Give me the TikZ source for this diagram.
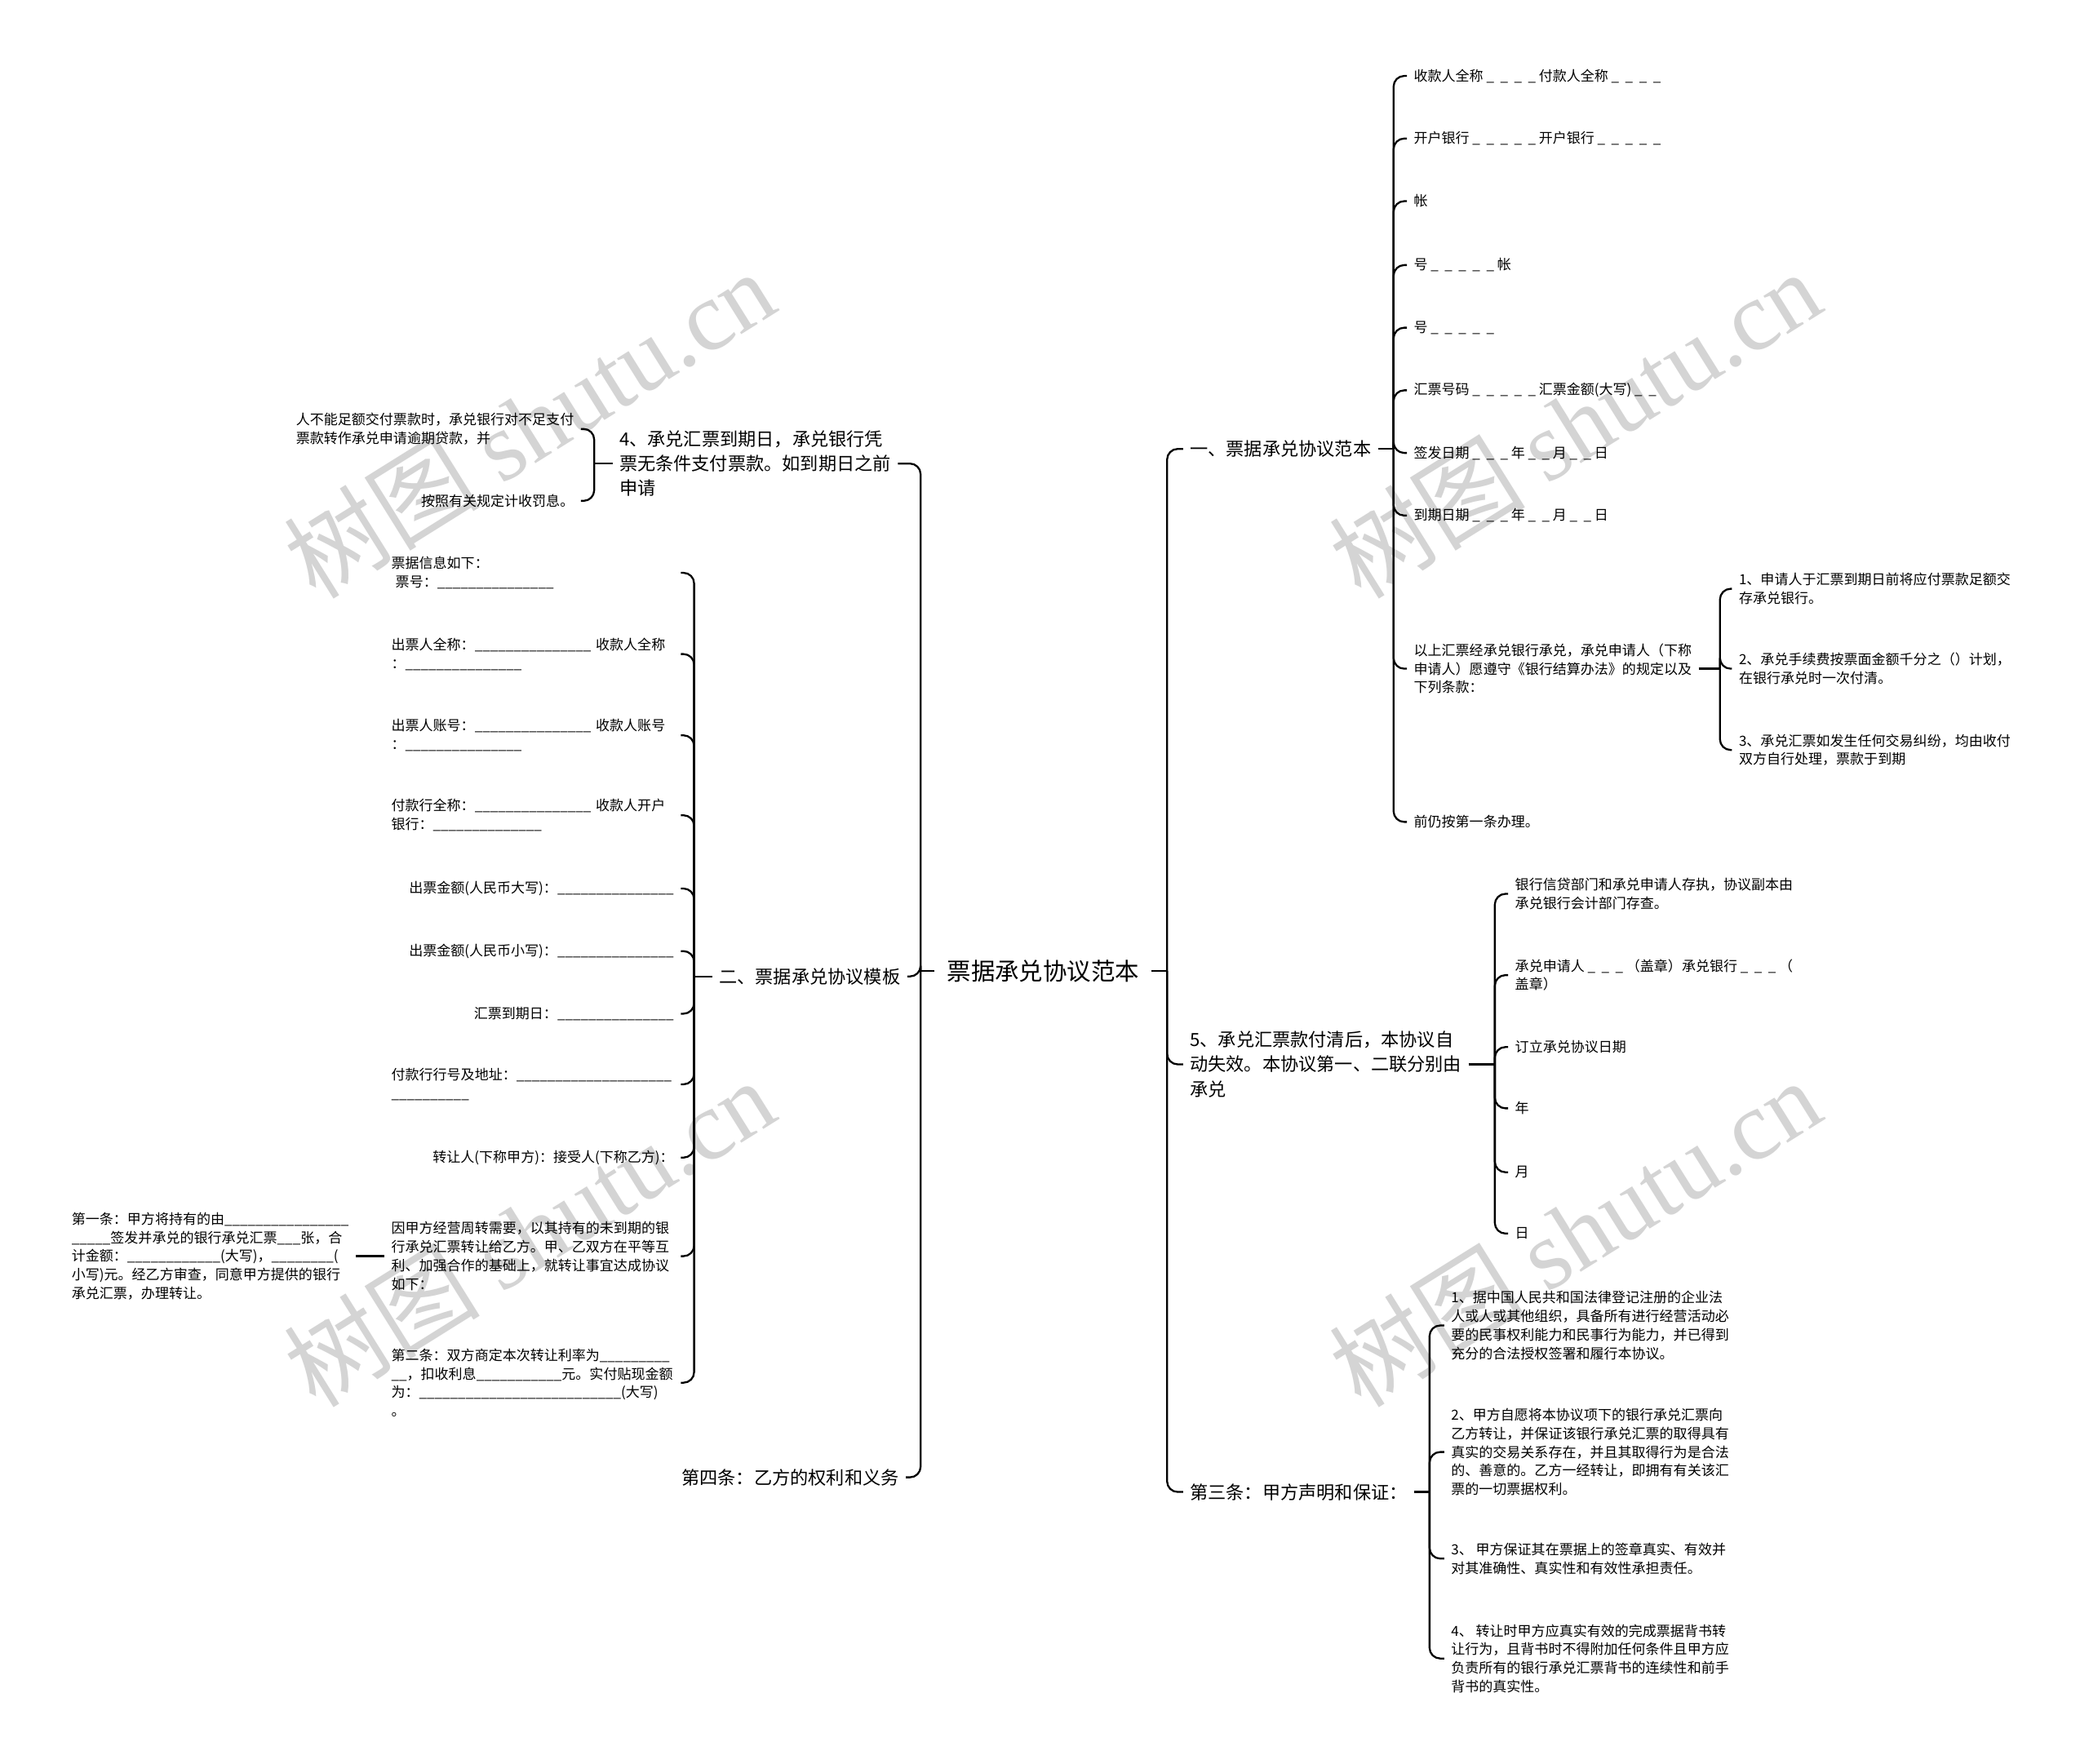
\documentclass[tikz,border=0pt]{standalone}
\usepackage{fontspec}
\setmainfont{Noto Sans CJK SC}
\newfontfamily\wmserif{Liberation Serif}
\usepackage{tikz}
\newcommand\uls[1]{\foreach\k in {1,...,#1}{\_}}
\newcommand\gaps[1]{\foreach\k in {1,...,#1}{\makebox[1em]{\_}}}

\begin{document}
\begin{tikzpicture}[
  x=0.3mm, y=-0.3mm,
  root/.style={font=\fontsize{15.4pt}{19pt}\selectfont, inner sep=2.7mm},
  lvone/.style={font=\fontsize{11.6pt}{15.8pt}\selectfont, align=left, inner sep=1.5mm},
  leaf/.style={font=\fontsize{8.9pt}{11.9pt}\selectfont, align=left, inner sep=1.5mm},
  wide/.style={leaf, text width=63.6mm},
  link/.style={line width=1.2pt, rounded corners=2.4mm},
  wmark/.style={text=black!17, rotate=32, font=\fontsize{63pt}{66pt}\selectfont, inner sep=0pt},
]
  \path[use as bounding box, fill=white] (0,0) rectangle (1568,1324);

  \node[wmark] (wm1) at (397,318) {树图 {\wmserif shutu.cn}};
  \node[wmark] (wm2) at (1182,318) {树图 {\wmserif shutu.cn}};
  \node[wmark] (wm3) at (397,925) {树图 {\wmserif shutu.cn}};
  \node[wmark] (wm4) at (1182,925) {树图 {\wmserif shutu.cn}};

  \node[root] (root) at (783,729) {票据承兑协议范本};
  \coordinate (jR) at (876,729);
  \coordinate (jL) at (691,729);
  \draw[link] (root.east) -- (jR);
  \draw[link] (root.west) -- (jL);

  % right side
  \node[lvone, anchor=west] (sample) at (888,337) {一、票据承兑协议范本};
  \node[lvone, anchor=west] (clause5) at (888,799) {5、承兑汇票款付清后，本协议自\\动失效。本协议第一、二联分别由\\承兑};
  \node[lvone, anchor=west] (clause3) at (888,1120) {第三条：甲方声明和保证：};
  \foreach \n in {sample,clause5,clause3} \draw[link] (jR) |- (\n.west);

  \node[leaf, anchor=west] (s1) at (1056,57) {收款人全称\gaps{4}付款人全称\gaps{4}};
  \node[leaf, anchor=west] (s2) at (1056,104) {开户银行\gaps{5}开户银行\gaps{5}};
  \node[leaf, anchor=west] (s3) at (1056,151) {帐};
  \node[leaf, anchor=west] (s4) at (1056,199) {号\gaps{5}帐};
  \node[leaf, anchor=west] (s5) at (1056,246) {号\gaps{5}};
  \node[leaf, anchor=west] (s6) at (1056,293) {汇票号码\gaps{5}汇票金额(大写)\gaps{2}};
  \node[leaf, anchor=west] (s7) at (1056,340) {签发日期\gaps{3}年\gaps{2}月\gaps{2}日};
  \node[leaf, anchor=west] (s8) at (1056,387) {到期日期\gaps{3}年\gaps{2}月\gaps{2}日};
  \node[leaf, anchor=west] (s9) at (1056,502) {以上汇票经承兑银行承兑，承兑申请人（下称\\申请人）愿遵守《银行结算办法》的规定以及\\下列条款：};
  \node[leaf, anchor=west] (s10) at (1056,617) {前仍按第一条办理。};
  \coordinate (jS) at (1046,337);
  \draw[link] (sample.east) -- (jS);
  \foreach \i in {1,...,10} \draw[link] (jS) |- (s\i.west);

  \node[leaf, anchor=west] (t1) at (1300,442) {1、申请人于汇票到期日前将应付票款足额交\\存承兑银行。};
  \node[leaf, anchor=west] (t2) at (1300,502) {2、承兑手续费按票面金额千分之（）计划，\\在银行承兑时一次付清。};
  \node[leaf, anchor=west] (t3) at (1300,563) {3、承兑汇票如发生任何交易纠纷，均由收付\\双方自行处理，票款于到期};
  \coordinate (jA) at (1291,502);
  \draw[link] (s9.east) -- (jA);
  \foreach \i in {1,2,3} \draw[link] (jA) |- (t\i.west);

  \node[leaf, anchor=west] (u1) at (1132,671) {银行信贷部门和承兑申请人存执，协议副本由\\承兑银行会计部门存查。};
  \node[leaf, anchor=west] (u2) at (1132,732) {承兑申请人\gaps{3}（盖章）承兑银行\gaps{3}（\\盖章）};
  \node[leaf, anchor=west] (u3) at (1132,786) {订立承兑协议日期};
  \node[leaf, anchor=west] (u4) at (1132,832) {年};
  \node[leaf, anchor=west] (u5) at (1132,880) {月};
  \node[leaf, anchor=west] (u6) at (1132,926) {日};
  \coordinate (jC) at (1122,799);
  \draw[link] (clause5.east) -- (jC);
  \foreach \i in {1,...,6} \draw[link] (jC) |- (u\i.west);

  \node[leaf, anchor=west] (v1) at (1084,995) {1、据中国人民共和国法律登记注册的企业法\\人或人或其他组织，具备所有进行经营活动必\\要的民事权利能力和民事行为能力，并已得到\\充分的合法授权签署和履行本协议。};
  \node[leaf, anchor=west] (v2) at (1084,1090) {2、甲方自愿将本协议项下的银行承兑汇票向\\乙方转让，并保证该银行承兑汇票的取得具有\\真实的交易关系存在，并且其取得行为是合法\\的、善意的。乙方一经转让，即拥有有关该汇\\票的一切票据权利。};
  \node[leaf, anchor=west] (v3) at (1084,1170) {3、 甲方保证其在票据上的签章真实、有效并\\对其准确性、真实性和有效性承担责任。};
  \node[leaf, anchor=west] (v4) at (1084,1245) {4、 转让时甲方应真实有效的完成票据背书转\\让行为，且背书时不得附加任何条件且甲方应\\负责所有的银行承兑汇票背书的连续性和前手\\背书的真实性。};
  \coordinate (jD) at (1073,1120);
  \draw[link] (clause3.east) -- (jD);
  \foreach \i in {1,...,4} \draw[link] (jD) |- (v\i.west);

  % left side
  \node[lvone, anchor=east] (due) at (674,348) {4、承兑汇票到期日，承兑银行凭\\票无条件支付票款。如到期日之前\\申请};
  \node[lvone, anchor=east] (tmpl) at (681,733) {二、票据承兑协议模板};
  \node[lvone, anchor=east] (rights) at (680,1109) {第四条：乙方的权利和义务};
  \foreach \n in {due,tmpl,rights} \draw[link] (jL) |- (\n.east);

  \node[leaf, anchor=east] (w1) at (436,322) {人不能足额交付票款时，承兑银行对不足支付\\票款转作承兑申请逾期贷款，并};
  \node[leaf, anchor=east] (w2) at (436,376) {按照有关规定计收罚息。};
  \coordinate (jE) at (446,348);
  \draw[link] (due.west) -- (jE);
  \foreach \i in {1,2} \draw[link] (jE) |- (w\i.east);

  \node[wide, anchor=east] (f1) at (511,430) {票据信息如下：\\\hspace*{0.3em}票号：\uls{15}};
  \node[wide, anchor=east] (f2) at (511,491) {出票人全称：\uls{15} 收款人全称\\：\uls{15}};
  \node[wide, anchor=east] (f3) at (511,552) {出票人账号：\uls{15} 收款人账号\\：\uls{15}};
  \node[wide, anchor=east] (f4) at (511,612) {付款行全称：\uls{15} 收款人开户\\银行：\uls{14}};
  \node[leaf, anchor=east] (f5) at (511,667) {出票金额(人民币大写)：\uls{15}};
  \node[leaf, anchor=east] (f6) at (511,714) {出票金额(人民币小写)：\uls{15}};
  \node[leaf, anchor=east] (f7) at (511,761) {汇票到期日：\uls{15}};
  \node[wide, anchor=east] (f8) at (511,814) {付款行行号及地址：\uls{20}\\\uls{10}};
  \node[leaf, anchor=east] (f9) at (511,869) {转让人(下称甲方)：接受人(下称乙方)：};
  \node[wide, anchor=east] (f10) at (511,943) {因甲方经营周转需要，以其持有的未到期的银\\行承兑汇票转让给乙方。甲、乙双方在平等互\\利、加强合作的基础上，就转让事宜达成协议\\如下：};
  \node[wide, anchor=east] (f11) at (511,1038) {第二条：双方商定本次转让利率为\uls{9}\\\uls{2}，扣收利息\uls{11}元。实付贴现金额\\为：\uls{26}(大写)\\。};
  \coordinate (jT) at (521,733);
  \draw[link] (tmpl.west) -- (jT);
  \foreach \i in {1,...,11} \draw[link] (jT) |- (f\i.east);

  \node[leaf, anchor=east] (first) at (267,943) {第一条：甲方将持有的由\uls{16}\\\uls{5}签发并承兑的银行承兑汇票\uls{3}张，合\\计金额：\uls{12}(大写)，\uls{8}(\\小写)元。经乙方审查，同意甲方提供的银行\\承兑汇票，办理转让。};
  \draw[link] (f10.west) -- (first.east);
\end{tikzpicture}
\end{document}
